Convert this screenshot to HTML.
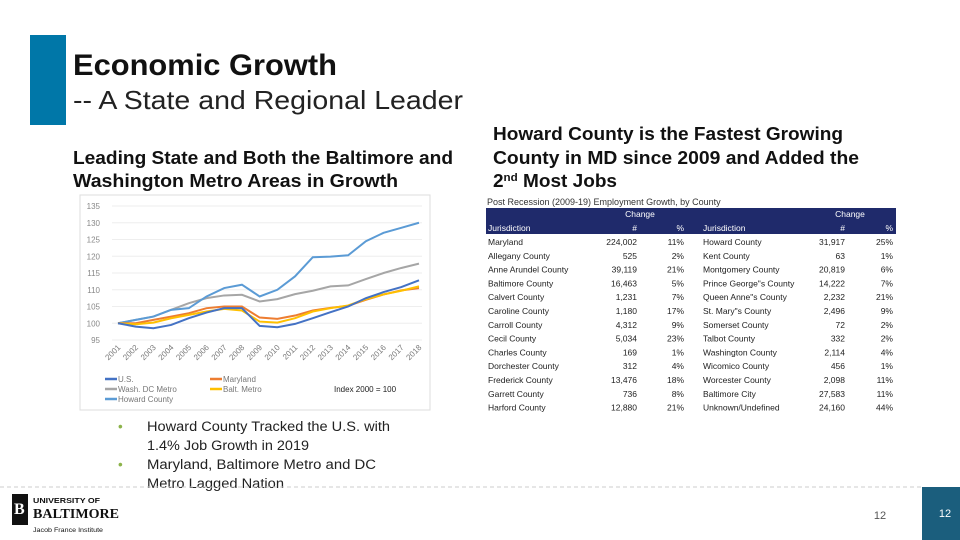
<!DOCTYPE html>
<html><head><meta charset="utf-8"><style>
html,body{margin:0;padding:0;background:#fff;}
svg{display:block;font-family:"Liberation Sans",sans-serif;}
</style></head><body>
<svg width="960" height="540" viewBox="0 0 960 540">
<rect x="30" y="35" width="36" height="90" fill="#0077a8"/>
<text x="73" y="75" font-size="30" font-weight="bold" fill="#111" textLength="264" lengthAdjust="spacingAndGlyphs">Economic Growth</text>
<text x="73" y="109" font-size="26" fill="#222" textLength="390" lengthAdjust="spacingAndGlyphs">-- A State and Regional Leader</text>
<g font-size="18" font-weight="bold" fill="#111">
<text x="73" y="164" textLength="380" lengthAdjust="spacingAndGlyphs">Leading State and Both the Baltimore and</text>
<text x="73" y="187" textLength="325" lengthAdjust="spacingAndGlyphs">Washington Metro Areas in Growth</text>
</g>
<g font-size="18" font-weight="bold" fill="#111">
<text x="493" y="140" textLength="350" lengthAdjust="spacingAndGlyphs">Howard County is the Fastest Growing</text>
<text x="493" y="164" textLength="366" lengthAdjust="spacingAndGlyphs">County in MD since 2009 and Added the</text>
<text x="493" y="187" textLength="124" lengthAdjust="spacingAndGlyphs">2<tspan font-size="11" dy="-6">nd</tspan><tspan dy="6"> Most Jobs</tspan></text>
</g>
<rect x="80" y="195" width="350" height="215" fill="none" stroke="#ddd"/>
<g id="chart"></g>
<g id="table"></g>
<g font-size="13.5" fill="#222">
<text x="118" y="431" fill="#8cb34a">•</text>
<text x="147" y="431" textLength="243" lengthAdjust="spacingAndGlyphs">Howard County Tracked the U.S. with</text>
<text x="147" y="450" textLength="162" lengthAdjust="spacingAndGlyphs">1.4% Job Growth in 2019</text>
<text x="118" y="469" fill="#8cb34a">•</text>
<text x="147" y="469" textLength="229" lengthAdjust="spacingAndGlyphs">Maryland, Baltimore Metro and DC</text>
<text x="147" y="488" textLength="137" lengthAdjust="spacingAndGlyphs">Metro Lagged Nation</text>
</g>
<line x1="0" y1="487" x2="922" y2="487" stroke="#ccc" stroke-dasharray="4,3"/>
<g>
<rect x="12" y="494" width="16" height="31" fill="#111"/>
<text x="14" y="514" font-size="16" font-weight="bold" fill="#fff" font-family="Liberation Serif,serif">B</text>
<text x="33" y="503" font-size="7" font-weight="bold" fill="#111" textLength="67" lengthAdjust="spacingAndGlyphs">UNIVERSITY OF</text>
<text x="33" y="518" font-size="14" font-weight="bold" fill="#111" font-family="Liberation Serif,serif" textLength="86" lengthAdjust="spacingAndGlyphs">BALTIMORE</text>
<text x="33" y="532" font-size="6" fill="#111" textLength="70" lengthAdjust="spacingAndGlyphs">Jacob France Institute</text>
</g>
<text x="880" y="519" font-size="11" fill="#555" text-anchor="middle">12</text>
<rect x="922" y="487" width="38" height="53" fill="#1b5e7d"/>
<text x="945" y="517" font-size="11" fill="#fff" text-anchor="middle">12</text>
</svg>
<script>
const years=['2001','2002','2003','2004','2005','2006','2007','2008','2009','2010','2011','2012','2013','2014','2015','2016','2017','2018'];
const yTicks=[95,100,105,110,115,120,125,130,135];
const usVals=[100,99,98.5,99.5,101.5,103.2,104.5,104.5,99.2,98.8,99.8,101.5,103.3,105,107.5,109.3,110.8,112.8];
const mdVals=[100,100,101,102,103,104.5,105,105,101.7,101.3,102.3,103.8,104.6,105.2,107,108.6,109.8,110.5];
const dcVals=[100,101,102,104,106,107.5,108.3,108.5,106.5,107.2,108.7,109.7,111,111.3,113.2,115,116.5,117.8];
const baltVals=[100,99.7,100.2,101.5,102.5,103.5,104.3,103.8,100.5,100.2,101.5,103.5,104.5,105.3,107.2,108.6,109.7,111];
const howardVals=[100,101,102,104,104.5,108,110.5,111.5,108,110,114,119.7,119.9,120.3,124.5,127,128.5,130];
const seriesNames=['U.S.','Maryland','Wash. DC Metro','Balt. Metro','Howard County'];
const NS='http://www.w3.org/2000/svg';
function xS(i){return 118+i*(419-118)/(years.length-1);}
function yS(v){return 340-(v-95)*(340-206)/40;}
function mk(tag,attrs,parent){const e=document.createElementNS(NS,tag);for(const k in attrs)e.setAttribute(k,attrs[k]);parent.appendChild(e);return e;}
const ch=document.getElementById('chart');
yTicks.forEach(t=>{
 const g=mk('line',{x1:112,x2:422,y1:yS(t),y2:yS(t),stroke:'#eee'},ch);
 
 
 const l=mk('text',{x:100,y:yS(t)+3,'font-size':8,fill:'#888','text-anchor':'end'},ch);
 l.textContent=t;
 
 
});
years.forEach((y,i)=>{
 const l=mk('text',{x:xS(i)+3,y:348,'font-size':8,fill:'#777','text-anchor':'end',transform:`rotate(-45 ${xS(i)+3} 348)`},ch);
 l.textContent=y;
 
 
});
const series=[[dcVals,'#a6a6a6','wash-dc-line'],[howardVals,'#5b9bd5','howard-line'],[mdVals,'#ed7d31','maryland-line'],[baltVals,'#ffc000','balt-metro-line'],[usVals,'#4472c4','us-line']];
series.forEach(s=>{
 const p=mk('polyline',{points:s[0].map((v,i)=>xS(i)+','+yS(v)).join(' '),fill:'none',stroke:s[1],'stroke-width':2},ch);
 
 
});
const leg=[[seriesNames[0],'#4472c4',113,382],[seriesNames[1],'#ed7d31',218,382],[seriesNames[2],'#a6a6a6',113,392],[seriesNames[3],'#ffc000',218,392],[seriesNames[4],'#5b9bd5',113,402]];
leg.forEach(e=>{
 const g=mk('g',{},ch);
 
 
 mk('line',{x1:e[2]-8,x2:e[2]+4,y1:e[3]-3,y2:e[3]-3,stroke:e[1],'stroke-width':2.5},g);
 const t=mk('text',{x:e[2]+5,y:e[3],'font-size':8,fill:'#777'},g);t.textContent=e[0];
});
const it=mk('text',{x:334,y:392,'font-size':8,fill:'#222'},ch);it.textContent='Index 2000 = 100';



const leftNames=['Maryland','Allegany County','Anne Arundel County','Baltimore County','Calvert County','Caroline County','Carroll County','Cecil County','Charles County','Dorchester County','Frederick County','Garrett County','Harford County'];
const leftNum=['224,002','525','39,119','16,463','1,231','1,180','4,312','5,034','169','312','13,476','736','12,880'];
const leftPct=['11%','2%','21%','5%','7%','17%','9%','23%','1%','4%','18%','8%','21%'];
const rightNames=['Howard County','Kent County','Montgomery County','Prince George"s County','Queen Anne"s County','St. Mary"s County','Somerset County','Talbot County','Washington County','Wicomico County','Worcester County','Baltimore City','Unknown/Undefined'];
const rightNum=['31,917','63','20,819','14,222','2,232','2,496','72','332','2,114','456','2,098','27,583','24,160'];
const rightPct=['25%','1%','6%','7%','21%','9%','2%','2%','4%','1%','11%','11%','44%'];
const tb=document.getElementById('table');
const tt=mk('text',{x:487,y:205,'font-size':9,fill:'#333'},tb);tt.textContent='Post Recession (2009-19) Employment Growth, by County';


const hb=mk('rect',{x:486,y:208,width:410,height:26,fill:'#1f2a6b'},tb);


[['Change',640,217,'middle'],['Jurisdiction',488,231,'start'],['#',637,231,'end'],['%',684,231,'end'],['Change',850,217,'middle'],['Jurisdiction',703,231,'start'],['#',845,231,'end'],['%',893,231,'end']].forEach(h=>{
 const t=mk('text',{x:h[1],y:h[2],'font-size':8.5,fill:'#fff','text-anchor':h[3]},tb);t.textContent=h[0];
});
leftNames.forEach((n,i)=>{
 const y=245+i*13.8;
 const g=mk('g',{'font-size':8.5,fill:'#222'},tb);
 
 
 [[n,488,'start'],[leftNum[i],637,'end'],[leftPct[i],684,'end'],[rightNames[i],703,'start'],[rightNum[i],845,'end'],[rightPct[i],893,'end']].forEach(c=>{
  const t=mk('text',{x:c[1],y:y,'text-anchor':c[2]},g);t.textContent=c[0];
 });
});
</script>
</body></html>
